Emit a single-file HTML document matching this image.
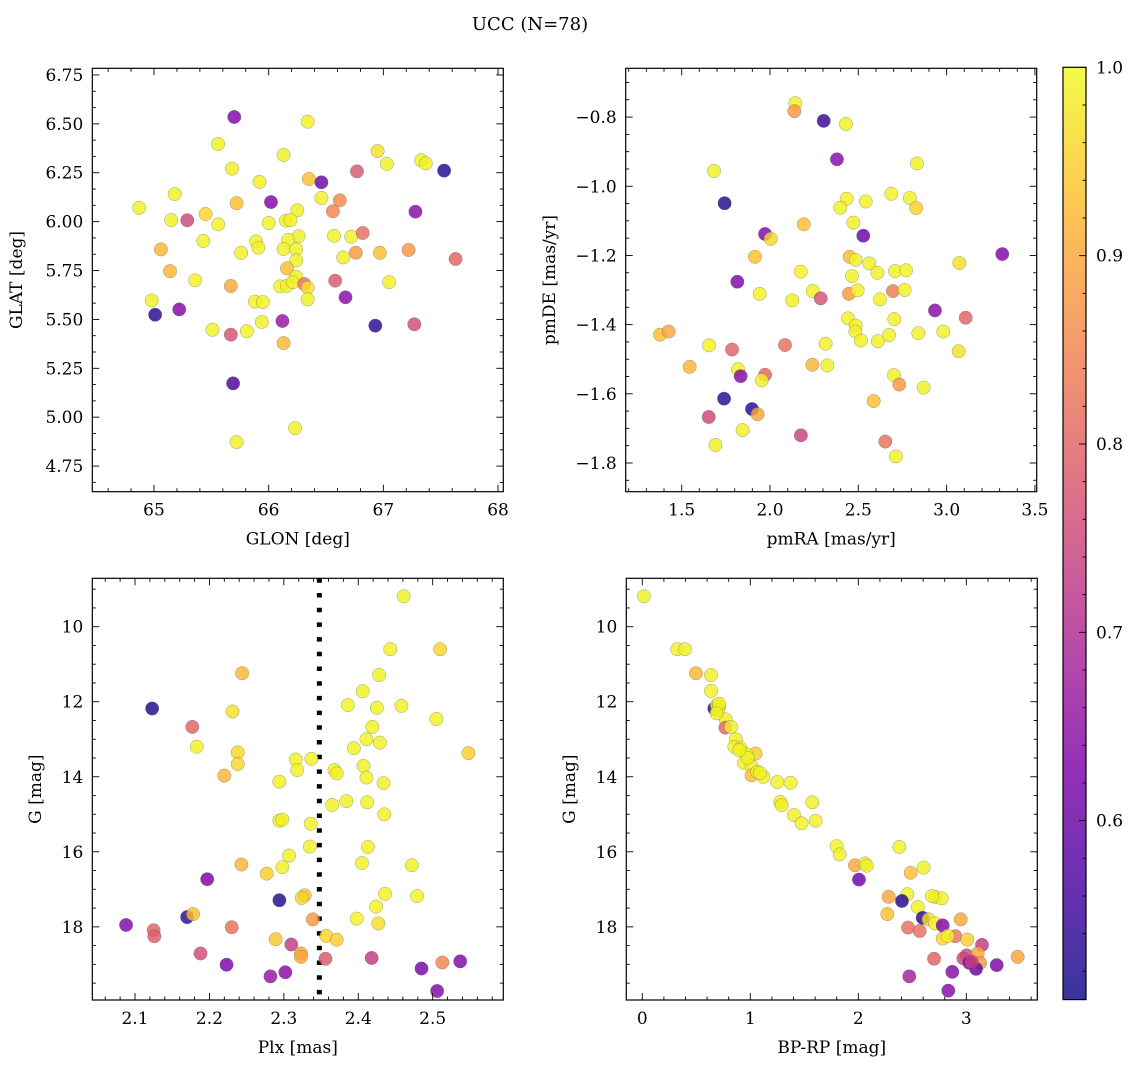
<!DOCTYPE html>
<html><head><meta charset="utf-8"><title>UCC (N=78)</title>
<style>
html,body{margin:0;padding:0;background:#fff;}
svg{display:block;font-family:"DejaVu Serif","Liberation Serif",serif;}
</style></head>
<body>
<svg id="fig" width="1136" height="1067" viewBox="0 0 1136 1067" xmlns="http://www.w3.org/2000/svg">
<rect x="0" y="0" width="1136" height="1067" fill="#fff"/>
<text x="530" y="30" font-size="18" text-anchor="middle" fill="#000">UCC (N=78)</text>
</svg>
<script>
// ---- Panel 1: GLON vs GLAT ----
const glon = [65.70,66.34,65.56,66.13,66.95,67.03,67.33,67.37,67.53,66.77,65.68,65.92,66.35,66.46,65.18,66.46,66.62,66.56,66.02,65.72,64.87,66.25,67.28,65.45,65.15,65.29,65.56,66.00,66.15,66.19,66.26,66.57,66.72,66.82,65.43,65.89,65.91,66.17,65.06,65.76,66.13,66.24,66.65,66.76,66.97,67.22,67.63,66.24,65.14,66.16,65.36,66.24,66.58,67.05,65.67,66.10,66.16,66.21,66.31,66.34,66.34,64.98,65.88,65.95,66.67,65.01,65.22,65.94,66.12,66.93,67.27,65.51,65.81,65.67,66.13,65.69,66.23,65.72];
const glat = [6.535,6.511,6.397,6.341,6.361,6.295,6.314,6.298,6.261,6.257,6.271,6.203,6.218,6.201,6.141,6.121,6.109,6.053,6.100,6.094,6.071,6.058,6.051,6.039,6.008,6.007,5.986,5.993,6.005,6.008,5.925,5.928,5.923,5.942,5.901,5.899,5.867,5.906,5.858,5.840,5.860,5.858,5.817,5.841,5.841,5.855,5.809,5.802,5.747,5.761,5.700,5.718,5.698,5.690,5.671,5.669,5.672,5.690,5.681,5.662,5.603,5.597,5.591,5.589,5.613,5.524,5.551,5.487,5.492,5.468,5.475,5.447,5.440,5.422,5.379,5.173,4.944,4.873];
const prob1 = [0.63,0.99,0.99,0.99,0.97,0.99,0.99,0.99,0.52,0.78,0.99,0.99,0.93,0.60,0.99,0.99,0.86,0.85,0.63,0.93,0.99,0.99,0.64,0.96,0.99,0.75,0.99,0.99,0.99,0.99,0.99,0.99,0.99,0.82,0.99,0.99,0.99,0.99,0.92,0.99,0.99,0.99,0.99,0.88,0.93,0.88,0.80,0.99,0.92,0.93,0.99,0.99,0.78,0.99,0.90,0.99,0.99,0.99,0.82,0.97,0.99,0.99,0.99,0.99,0.64,0.53,0.63,0.99,0.66,0.53,0.76,0.99,0.99,0.77,0.92,0.56,0.99,0.99];
// ---- Panel 2: pmRA vs pmDE ----
const pmra = [2.143,2.138,2.304,2.430,2.379,2.832,1.683,1.743,2.434,2.542,2.398,2.687,2.792,2.828,2.472,2.191,2.528,1.972,2.004,3.315,1.915,2.451,2.485,2.562,2.608,2.708,2.770,3.072,2.174,2.464,1.815,1.942,2.242,2.287,2.126,2.447,2.496,2.696,2.762,2.623,2.934,3.108,2.442,2.704,2.485,2.483,2.515,2.611,2.674,2.840,2.981,3.068,1.377,1.426,1.655,1.785,2.085,2.315,1.545,2.240,2.325,1.819,1.834,1.972,1.953,2.702,2.732,2.870,1.740,2.587,1.898,1.930,1.653,1.845,2.175,2.653,1.691,2.713];
const pmde = [-0.760,-0.783,-0.811,-0.820,-0.922,-0.934,-0.956,-1.049,-1.036,-1.044,-1.062,-1.022,-1.034,-1.063,-1.105,-1.110,-1.143,-1.138,-1.152,-1.196,-1.204,-1.204,-1.213,-1.223,-1.250,-1.245,-1.243,-1.222,-1.247,-1.260,-1.276,-1.311,-1.303,-1.324,-1.330,-1.311,-1.301,-1.303,-1.300,-1.327,-1.359,-1.380,-1.382,-1.384,-1.403,-1.420,-1.446,-1.448,-1.430,-1.425,-1.420,-1.477,-1.429,-1.420,-1.460,-1.472,-1.459,-1.455,-1.522,-1.516,-1.518,-1.529,-1.549,-1.545,-1.561,-1.546,-1.573,-1.582,-1.614,-1.621,-1.644,-1.659,-1.667,-1.705,-1.720,-1.738,-1.748,-1.781];
const prob2 = [0.99,0.88,0.55,0.99,0.64,0.99,0.99,0.52,0.99,0.99,0.99,0.99,0.99,0.95,0.99,0.93,0.60,0.63,0.96,0.63,0.93,0.93,0.99,0.99,0.99,0.99,0.99,0.97,0.99,0.99,0.63,0.99,0.99,0.77,0.99,0.88,0.99,0.84,0.99,0.99,0.64,0.80,0.99,0.99,0.99,0.99,0.99,0.99,0.99,0.99,0.99,0.97,0.93,0.90,0.99,0.80,0.82,0.99,0.92,0.92,0.99,0.99,0.64,0.80,0.99,0.99,0.88,0.99,0.53,0.93,0.53,0.90,0.75,0.99,0.74,0.82,0.99,0.99];
// ---- Panel 3: Plx vs G ----
const plx = [2.461,2.443,2.510,2.244,2.428,2.406,2.123,2.231,2.386,2.425,2.458,2.505,2.177,2.419,2.411,2.429,2.183,2.394,2.238,2.548,2.316,2.337,2.238,2.318,2.368,2.371,2.407,2.220,2.411,2.294,2.434,2.365,2.384,2.412,2.435,2.294,2.298,2.336,2.335,2.413,2.307,2.243,2.298,2.277,2.405,2.472,2.197,2.328,2.324,2.436,2.479,2.294,2.424,2.170,2.178,2.339,2.398,2.427,2.088,2.230,2.125,2.126,2.357,2.371,2.289,2.310,2.323,2.323,2.188,2.356,2.418,2.223,2.513,2.537,2.485,2.282,2.302,2.506];
const gmag3 = [9.19,10.60,10.60,11.24,11.29,11.72,12.18,12.26,12.09,12.16,12.11,12.46,12.67,12.67,13.00,13.09,13.20,13.24,13.35,13.37,13.54,13.52,13.66,13.82,13.82,13.91,13.71,13.97,14.02,14.13,14.17,14.75,14.65,14.68,15.00,15.17,15.14,15.25,15.86,15.87,16.10,16.34,16.41,16.58,16.30,16.36,16.73,17.16,17.23,17.12,17.18,17.29,17.46,17.74,17.66,17.80,17.78,17.91,17.95,18.01,18.09,18.25,18.24,18.34,18.33,18.47,18.71,18.80,18.71,18.85,18.83,19.01,18.95,18.92,19.11,19.32,19.21,19.71];
const prob3 = [0.99,0.99,0.96,0.92,0.99,0.99,0.52,0.97,0.99,0.99,0.99,0.99,0.80,0.99,0.99,0.99,0.99,0.99,0.96,0.95,0.99,0.99,0.96,0.99,0.99,0.99,0.99,0.92,0.99,0.99,0.99,0.99,0.99,0.99,0.99,0.99,0.99,0.99,0.99,0.99,0.99,0.92,0.99,0.95,0.99,0.99,0.62,0.93,0.96,0.99,0.99,0.52,0.99,0.53,0.93,0.88,0.99,0.97,0.63,0.82,0.80,0.79,0.96,0.95,0.94,0.73,0.90,0.90,0.76,0.78,0.73,0.62,0.85,0.63,0.62,0.66,0.64,0.63];
const plxRef = 2.3477;
// ---- Panel 4: BP-RP vs G ----
const bprp = [0.015,0.324,0.395,0.497,0.636,0.636,0.667,0.691,0.710,0.698,0.772,0.769,0.821,0.867,0.852,0.910,1.049,0.966,0.941,1.012,1.012,1.065,1.120,1.250,1.373,1.278,1.290,1.574,1.404,1.475,1.605,1.799,1.827,1.969,2.062,2.077,2.006,2.380,2.485,2.605,2.281,2.454,2.404,2.713,2.772,2.552,2.269,2.596,2.651,2.710,2.781,2.948,2.460,2.568,2.898,2.781,2.827,3.009,3.145,3.003,2.972,3.105,3.127,3.028,3.090,3.281,3.475,2.701,2.870,2.472,2.833,3.049,0.975,0.898,1.090,0.710,0.688,2.682];
const gmag4 = [9.19,10.60,10.60,11.24,11.29,11.71,12.18,12.09,12.13,12.22,12.47,12.69,12.67,13.00,13.20,13.24,13.38,13.40,13.63,13.72,13.96,13.87,14.00,14.14,14.16,14.67,14.76,14.68,15.02,15.24,15.17,15.85,16.07,16.36,16.31,16.37,16.74,15.87,16.56,16.42,17.20,17.13,17.31,17.20,17.24,17.47,17.66,17.76,17.80,17.91,17.96,17.80,18.02,18.11,18.25,18.31,18.24,18.34,18.48,18.76,18.84,18.71,18.96,18.96,19.12,19.02,18.80,18.85,19.20,19.32,19.70,18.93,13.49,13.29,13.90,12.05,12.31,17.18];
const prob4 = [0.99,0.99,0.99,0.92,0.99,0.99,0.52,0.99,0.99,0.99,0.99,0.80,0.99,0.99,0.99,0.99,0.95,0.99,0.99,0.99,0.93,0.99,0.99,0.99,0.99,0.99,0.99,0.99,0.99,0.99,0.99,0.99,0.99,0.90,0.99,0.99,0.60,0.99,0.93,0.99,0.90,0.99,0.52,0.99,0.99,0.99,0.93,0.53,0.97,0.99,0.63,0.90,0.82,0.82,0.83,0.96,0.99,0.95,0.73,0.75,0.75,0.90,0.88,0.63,0.60,0.62,0.90,0.80,0.64,0.68,0.64,0.74,0.99,0.99,0.99,0.99,0.99,0.99];
// ---- Tick labels ----
const glonTicks = [65,66,67,68];
const glatTicks = [6.75,6.50,6.25,6.00,5.75,5.50,5.25,5.00,4.75];
const pmraTicks = [1.5,2.0,2.5,3.0,3.5];
const pmdeTicks = [-0.8,-1.0,-1.2,-1.4,-1.6,-1.8];
const plxTicks = [2.1,2.2,2.3,2.4,2.5];
const gTicks = [10,12,14,16,18];
const bprpTicks = [0,1,2,3];
const cbarTicks = [0.6,0.7,0.8,0.9,1.0];

const NS = "http://www.w3.org/2000/svg";
const svg = document.getElementById('fig');
const VMIN = 0.505, VMAX = 1.0;
const plasmaStops = ["#0d0887","#4c02a1","#7e03a8","#a92395","#cc4778","#e56b5d","#f89441","#fdc328","#f0f921"];
function hex2rgb(h){return [parseInt(h.substr(1,2),16),parseInt(h.substr(3,2),16),parseInt(h.substr(5,2),16)];}
function plasma(t){
  t=Math.max(0,Math.min(1,t));
  const n=plasmaStops.length-1, f=t*n, i=Math.min(n-1,Math.floor(f)), u=f-i;
  const a=hex2rgb(plasmaStops[i]), b=hex2rgb(plasmaStops[i+1]);
  return "rgb("+a.map((v,k)=>Math.round(v+(b[k]-v)*u)).join(",")+")";
}
function cmap(v){return plasma((v-VMIN)/(VMAX-VMIN));}
function mk(tag, attrs, parent){
  const e=document.createElementNS(NS,tag);
  for(const k in attrs) e.setAttribute(k, attrs[k]);
  (parent||svg).appendChild(e);
  return e;
}
function fmt(v,d){ const s=v.toFixed(d); return s.replace('-', '\u2212'); }

function panel(o){
  const g=mk('g',{});
  
  
  const sx=v=>o.L+(v-o.xmin)/(o.xmax-o.xmin)*(o.R-o.L);
  const sy=v=>o.yinv ? o.T+(v-o.ymin)/(o.ymax-o.ymin)*(o.B-o.T) : o.B-(v-o.ymin)/(o.ymax-o.ymin)*(o.B-o.T);
  const clip=mk('clipPath',{id:'clip-'+o.name},g);
  mk('rect',{x:o.L,y:o.T,width:o.R-o.L,height:o.B-o.T},clip);
  const pts=mk('g',{'clip-path':'url(#clip-'+o.name+')'},g);
  if(o.vline!==undefined){
    const ln=mk('line',{x1:sx(o.vline),x2:sx(o.vline),y1:o.T,y2:o.B,stroke:'#000','stroke-width':5,'stroke-dasharray':'4.5 10.2'},pts);
    
    
  }
  for(let i=0;i<o.xs.length;i++){
    const c=mk('circle',{cx:sx(o.xs[i]).toFixed(2),cy:sy(o.ys[i]).toFixed(2),r:6.7,fill:cmap(o.cs[i]),'fill-opacity':0.82,stroke:'#666','stroke-opacity':0.6,'stroke-width':0.5},pts);
    
    
  }
  // frame
  mk('rect',{x:o.L,y:o.T,width:o.R-o.L,height:o.B-o.T,fill:'none',stroke:'#000','stroke-width':1.2},g);
  // x ticks
  const xstart=Math.ceil((o.xmin-1e-9)/o.xminor)*o.xminor;
  for(let v=xstart; v<=o.xmax+1e-9; v+=o.xminor){
    const isMaj = o.xt.some(t=>Math.abs(t-v)<o.xminor*0.1);
    const len=isMaj?7:3.5, x=sx(v);
    mk('line',{x1:x,x2:x,y1:o.B,y2:o.B-len,stroke:'#000','stroke-width':0.9},g);
    mk('line',{x1:x,x2:x,y1:o.T,y2:o.T+len,stroke:'#000','stroke-width':0.9},g);
  }
  o.xt.forEach(t=>{
    const tx=mk('text',{x:sx(t),y:o.B+24,'font-size':17,'text-anchor':'middle',fill:'#000'},g);
    tx.textContent=fmt(t,o.xd);
    
    
  });
  const ystart=Math.ceil((o.ymin-1e-9)/o.yminor)*o.yminor;
  for(let v=ystart; v<=o.ymax+1e-9; v+=o.yminor){
    const isMaj = o.yt.some(t=>Math.abs(t-v)<o.yminor*0.1);
    const len=isMaj?7:3.5, y=sy(v);
    mk('line',{x1:o.L,x2:o.L+len,y1:y,y2:y,stroke:'#000','stroke-width':0.9},g);
    mk('line',{x1:o.R,x2:o.R-len,y1:y,y2:y,stroke:'#000','stroke-width':0.9},g);
  }
  o.yt.forEach(t=>{
    const tx=mk('text',{x:o.L-9,y:sy(t)+6,'font-size':17,'text-anchor':'end',fill:'#000'},g);
    tx.textContent=fmt(t,o.yd);
    
    
  });
  const xl=mk('text',{x:(o.L+o.R)/2,y:o.B+53,'font-size':17,'text-anchor':'middle',fill:'#000'},g);
  xl.textContent=o.xlabel;
  
  
  const yc=(o.T+o.B)/2;
  const yl=mk('text',{x:o.ylx,y:yc,'font-size':17,'text-anchor':'middle',fill:'#000',transform:'rotate(-90 '+o.ylx+' '+yc+')'},g);
  yl.textContent=o.ylabel;
  
  
}

panel({name:'glon-glat-panel',L:92.3,R:503.3,T:68.3,B:491.7,xmin:64.462,xmax:68.046,ymin:4.619,ymax:6.784,
  xs:glon,ys:glat,cs:prob1,xt:glonTicks,yt:glatTicks,xd:0,yd:2,xminor:0.2,yminor:0.25/3,
  xlabel:'GLON [deg]',ylabel:'GLAT [deg]',ylx:22});
panel({name:'pm-panel',L:625.7,R:1036.7,T:68.3,B:491.7,xmin:1.183,xmax:3.51,ymin:-1.883,ymax:-0.659,
  xs:pmra,ys:pmde,cs:prob2,xt:pmraTicks,yt:pmdeTicks,xd:1,yd:1,xminor:0.1,yminor:0.05,
  xlabel:'pmRA [mas/yr]',ylabel:'pmDE [mas/yr]',ylx:555});
panel({name:'plx-g-panel',L:92.3,R:503.3,T:578.3,B:1000,xmin:2.0426,xmax:2.5949,ymin:8.71,ymax:19.95,yinv:true,
  xs:plx,ys:gmag3,cs:prob3,xt:plxTicks,yt:gTicks,xd:1,yd:0,xminor:0.02,yminor:0.5,vline:plxRef,
  xlabel:'Plx [mas]',ylabel:'G [mag]',ylx:41});
panel({name:'cmd-panel',L:626.3,R:1037.3,T:578.3,B:1000,xmin:-0.148,xmax:3.657,ymin:8.71,ymax:19.95,yinv:true,
  xs:bprp,ys:gmag4,cs:prob4,xt:bprpTicks,yt:gTicks,xd:0,yd:0,xminor:0.2,yminor:0.5,
  xlabel:'BP-RP [mag]',ylabel:'G [mag]',ylx:575});

// ---- Colorbar ----
(function(){
  const L=1063,R=1086,T=67.3,B=999.6;
  const g=mk('g',{});
  
  
  const defs=mk('defs',{},g);
  const grad=mk('linearGradient',{id:'cbgrad',x1:0,y1:1,x2:0,y2:0},defs);
  for(let i=0;i<=20;i++){
    const t=i/20;
    const s=mk('stop',{offset:t,'stop-color':plasma(t),'stop-opacity':0.82},grad);
  }
  mk('rect',{x:L,y:T,width:R-L,height:B-T,fill:'url(#cbgrad)'},g);
  mk('rect',{x:L,y:T,width:R-L,height:B-T,fill:'none',stroke:'#000','stroke-width':1.2},g);
  const sy=v=>B-(v-VMIN)/(VMAX-VMIN)*(B-T);
  for(let v=0.52; v<=1.0001; v+=0.02){
    const isMaj=cbarTicks.some(t=>Math.abs(t-v)<0.002);
    const len=isMaj?7:3.5;
    mk('line',{x1:R,x2:R-len,y1:sy(v),y2:sy(v),stroke:'#000','stroke-width':0.9},g);
  }
  cbarTicks.forEach(t=>{
    const tx=mk('text',{x:R+10,y:sy(t)+6,'font-size':17,'text-anchor':'start',fill:'#000'},g);
    tx.textContent=t.toFixed(1);
    
    
  });
})();
</script>
</body></html>
